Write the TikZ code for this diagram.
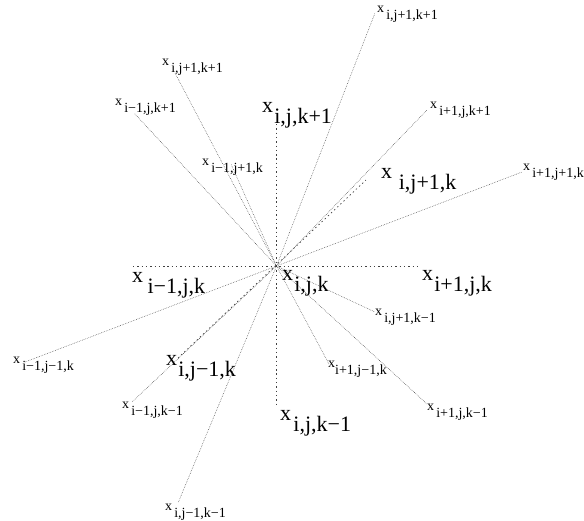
\documentclass[tikz,border=0pt]{standalone}
\usepackage{fontspec}
\setmainfont{Liberation Serif}
% x with a lowered index set at the same size
\newcommand\xsub[2][0.15em]{x\kern#1\raisebox{-0.5em}{#2}}

\begin{document}
\begin{tikzpicture}[x=1pt,y=-1pt,
  big/.style={font=\fontsize{22}{26}\selectfont, inner sep=0pt, anchor=base west},
  small/.style={font=\fontsize{14}{17}\selectfont, inner sep=0pt, anchor=base west},
  axisline/.style={line width=0.7pt, black!75, dash pattern=on 1.4pt off 2.9pt},
  edgeline/.style={line width=0.45pt, black!80, dash pattern=on 0.6pt off 1.1pt}]
\useasboundingbox (0,0) rectangle (584,520);

% centre of the stencil
\coordinate (c) at (276.5,266);

% ends of the three axes
\coordinate (im) at (133,266);
\coordinate (ip) at (420,266);
\coordinate (kp) at (276.5,124);
\coordinate (km) at (276.5,407);
\coordinate (jp) at (366,180);
\coordinate (jm) at (178,358);

% ends of the diagonal links
\coordinate (e1)  at (375,13);
\coordinate (e2)  at (175,73);
\coordinate (e3)  at (134,113);
\coordinate (e4)  at (427,110);
\coordinate (e5)  at (231,164);
\coordinate (e6)  at (522,172);
\coordinate (e7)  at (25,362);
\coordinate (e8)  at (375,312);
\coordinate (e9)  at (329,364);
\coordinate (e10) at (427,404);
\coordinate (e11) at (132,402);
\coordinate (e12) at (178,503);

% axes
\draw[axisline] (im) -- (ip);
\draw[axisline] (kp) -- (km);
\draw[axisline] (jm) -- (jp);

% diagonal links
\foreach \e in {e1,e2,e3,e4,e5,e6,e7,e8,e9,e10,e11,e12}
  \draw[edgeline] (c) -- (\e);

% face neighbours
\node[big] (lkp) at (262,112) {\xsub[0.05em]{i,j,k+1}};
\node[big] (ljp) at (381,178) {\xsub[0.3em]{i,j+1,k}};
\node[big] (lim) at (132,282) {\xsub[0.2em]{i−1,j,k}};
\node[big] (lc)  at (282,280) {\xsub[0.05em]{i,j,k}};
\node[big] (lip) at (422,280) {\xsub[0.05em]{i+1,j,k}};
\node[big] (ljm) at (166,365) {\xsub[0.05em]{i,j−1,k}};
\node[big] (lkm) at (280,420) {\xsub[0.1em]{i,j,k−1}};

% edge neighbours
\node[small] (l1)  at (377,12)  {\xsub{i,j+1,k+1}};
\node[small] (l2)  at (162,65)  {\xsub{i,j+1,k+1}};
\node[small] (l3)  at (115,105) {\xsub{i−1,j,k+1}};
\node[small] (l4)  at (430,108) {\xsub{i+1,j,k+1}};
\node[small] (l5)  at (202,165) {\xsub{i−1,j+1,k}};
\node[small] (l6)  at (523,170) {\xsub{i+1,j+1,k}};
\node[small] (l7)  at (375,315) {\xsub{i,j+1,k−1}};
\node[small] (l8)  at (328,367) {\xsub[0em]{i+1,j−1,k}};
\node[small] (l9)  at (427,410) {\xsub{i+1,j,k−1}};
\node[small] (l10) at (13,363)  {\xsub{i−1,j−1,k}};
\node[small] (l11) at (122,408) {\xsub{i−1,j,k−1}};
\node[small] (l12) at (165,510) {\xsub{i,j−1,k−1}};
\end{tikzpicture}
\end{document}
